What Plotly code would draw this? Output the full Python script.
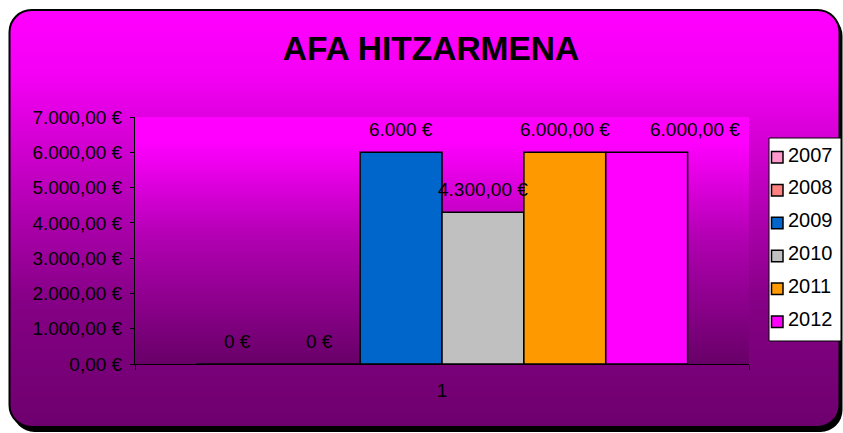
import base64
import plotly.graph_objects as go

# --- data -------------------------------------------------------------
years = ["2007", "2008", "2009", "2010", "2011", "2012"]
amounts = [0, 0, 6000, 4300, 6000, 6000]
label_decimals = [0, 0, 0, 2, 2, 2]
bar_colors = ["#FF99CC", "#FF8080", "#0066CC", "#C0C0C0", "#FF9900", "#FF00FF"]
category = ["1"]
y_ticks = [0, 1000, 2000, 3000, 4000, 5000, 6000, 7000]
title_text = "AFA HITZARMENA"

W, H = 843, 433
M_L, M_R, M_T, M_B = 135, 94, 117, 69
PW, PH = W - M_L - M_R, H - M_T - M_B
FONT = "Liberation Sans, Arial, sans-serif"


def euro(v, decimals):
    s = f"{v:,.{decimals}f}"
    s = s.replace(",", "X").replace(".", ",").replace("X", ".")
    return f"{s} €"


def px_x(px):
    return (px - M_L) / PW


def px_y(py):
    return (M_T + PH - py) / PH


def svg_uri(svg):
    return "data:image/svg+xml;base64," + base64.b64encode(svg.encode()).decode()


# rounded chart frame with a vertical magenta-to-purple gradient and a drop shadow
frame_svg = f"""<svg xmlns="http://www.w3.org/2000/svg" width="{W}" height="{H}" viewBox="0 0 {W} {H}">
<defs><linearGradient id="g" x1="0" y1="0" x2="0" y2="1">
<stop offset="0" stop-color="#FF00FF"/><stop offset="0.15" stop-color="#F500F5"/>
<stop offset="0.4" stop-color="#C200C2"/><stop offset="0.7" stop-color="#850085"/>
<stop offset="1" stop-color="#6E006E"/></linearGradient></defs>
<rect x="12.5" y="14" width="830" height="418" rx="22" ry="22" fill="#000"/>
<rect x="9.5" y="10" width="830" height="417" rx="22" ry="22" fill="url(#g)" stroke="#000" stroke-width="2"/>
</svg>"""

# plot area gradient
plot_svg = """<svg xmlns="http://www.w3.org/2000/svg" width="100" height="100" viewBox="0 0 100 100" preserveAspectRatio="none">
<defs><linearGradient id="p" x1="0" y1="0" x2="0" y2="1">
<stop offset="0" stop-color="#FF00FF"/><stop offset="0.1" stop-color="#FF00FF"/>
<stop offset="0.5" stop-color="#B000B0"/><stop offset="1" stop-color="#680068"/></linearGradient></defs>
<rect x="0" y="0" width="100" height="100" fill="url(#p)"/>
</svg>"""

fig = go.Figure()
for yr, val, col in zip(years, amounts, bar_colors):
    fig.add_trace(go.Bar(
        x=category, y=[val], name=yr,
        marker=dict(color=col, line=dict(color="#000000", width=1.5)),
        hoverinfo="name+y", showlegend=False,
    ))

# value labels above each bar
group_width = 0.8
bw = group_width / len(years)
for i, (val, dec) in enumerate(zip(amounts, label_decimals)):
    xc = -group_width / 2 + bw * (i + 0.5)
    fig.add_annotation(
        x=xc, y=val, xref="x", yref="y", text=euro(val, dec), showarrow=False,
        yshift=23, xshift=48 if i == len(years) - 1 else 0,
        font=dict(family=FONT, size=19, color="#000000"), yanchor="middle",
    )

# legend box on the right: white panel, a swatch and the year for every series
LEG_X0, LEG_X1, LEG_Y0, LEG_Y1 = 769, 841, 138, 341
ITEM_Y0, ITEM_STEP = 154.5, 32.9
shapes = [dict(type="rect", xref="paper", yref="paper",
               x0=px_x(LEG_X0), x1=px_x(LEG_X1), y0=px_y(LEG_Y1), y1=px_y(LEG_Y0),
               fillcolor="#FFFFFF", line=dict(color="#000000", width=1), layer="above")]
for i, (yr, col) in enumerate(zip(years, bar_colors)):
    cy = ITEM_Y0 + i * ITEM_STEP
    shapes.append(dict(type="rect", xref="paper", yref="paper",
                       x0=px_x(771.5), x1=px_x(783), y0=px_y(cy + 8.5), y1=px_y(cy - 3),
                       fillcolor=col, line=dict(color="#000000", width=1.5), layer="above"))
    fig.add_annotation(x=px_x(786), y=px_y(cy), xref="paper", yref="paper",
                       text=yr, showarrow=False, xanchor="left", yanchor="middle",
                       font=dict(family=FONT, size=20, color="#000000"))

fig.update_layout(
    width=W, height=H,
    margin=dict(l=M_L, r=M_R, t=M_T, b=M_B, pad=0),
    paper_bgcolor="#FFFFFF", plot_bgcolor="rgba(0,0,0,0)",
    barmode="group", bargap=0.2, bargroupgap=0,
    font=dict(family=FONT, size=19, color="#000000"),
    title=dict(text=f"<b>{title_text}</b>", x=431 / W, xanchor="center",
               y=1 - 48 / H, yanchor="middle", yref="container",
               font=dict(family=FONT, size=33.5, color="#000000")),
    showlegend=False,
    shapes=shapes,
    images=[
        dict(source=svg_uri(frame_svg), xref="paper", yref="paper",
             x=-M_L / PW, y=1 + M_T / PH, sizex=W / PW, sizey=H / PH,
             xanchor="left", yanchor="top", sizing="stretch", layer="below"),
        dict(source=svg_uri(plot_svg), xref="paper", yref="paper",
             x=0, y=1, sizex=1, sizey=1,
             xanchor="left", yanchor="top", sizing="stretch", layer="below"),
    ],
)

fig.update_xaxes(type="category", showline=True, linecolor="#000000", linewidth=1,
                 ticks="outside", ticklen=5, tickcolor="#000000", tickson="boundaries",
                 showgrid=False, zeroline=False, ticklabelstandoff=9,
                 tickfont=dict(family=FONT, size=19, color="#000000"))
fig.update_yaxes(range=[0, 7000], tickvals=y_ticks,
                 ticktext=[euro(v, 2) for v in y_ticks],
                 showline=True, linecolor="#000000", linewidth=1,
                 ticks="outside", ticklen=4, tickcolor="#000000",
                 showgrid=False, zeroline=False, ticklabelstandoff=4,
                 tickfont=dict(family=FONT, size=19, color="#000000"))

fig.write_html("out.html")
